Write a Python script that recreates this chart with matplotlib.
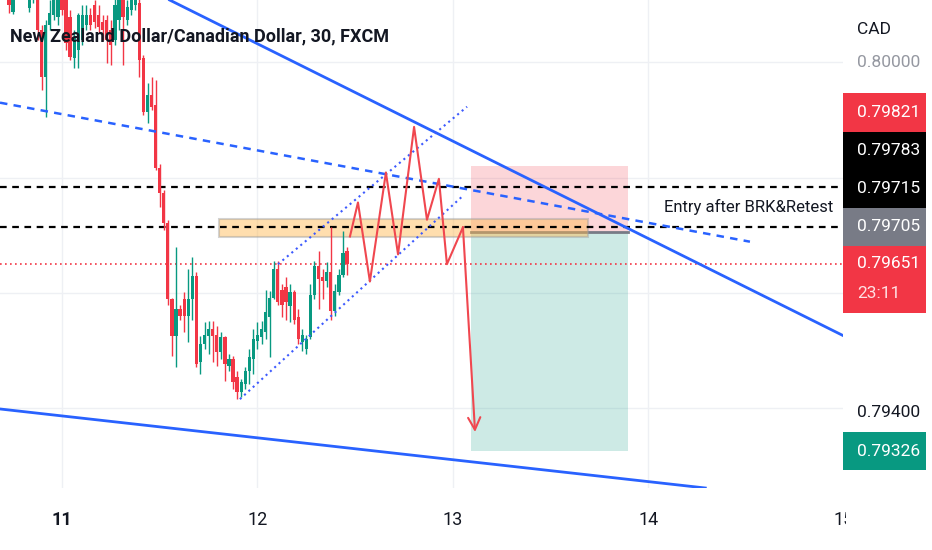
import matplotlib
matplotlib.use("Agg")
import matplotlib.pyplot as plt
from matplotlib.patches import Rectangle
import numpy as np

plt.rcParams['font.family'] = ['Roboto', 'DejaVu Sans']

GREEN = '#089981'
RED = '#f23645'
BLUE = '#2962ff'
INK = '#131722'

# NZDCAD 30 min candles, first bar on the 10th at 16:30
first_bar = 10 + 33 / 48
opens = [0.80151, 0.80134, 0.80125, 0.80087, 0.80117, 0.80134, 0.80151, 0.80094, 0.80117, 0.80117,
         0.80056, 0.79975, 0.80065, 0.80082, 0.80079, 0.80117, 0.80108, 0.80079, 0.80008, 0.80022,
         0.80039, 0.80065, 0.80082, 0.80099, 0.80082, 0.80070, 0.80073, 0.80056, 0.80039, 0.80073,
         0.80108, 0.80073, 0.80091, 0.80099, 0.80103, 0.80008, 0.79913, 0.79944, 0.79926, 0.79817,
         0.79774, 0.79722, 0.79589, 0.79525, 0.79572, 0.79589, 0.79560, 0.79589, 0.79629, 0.79480,
         0.79511, 0.79525, 0.79537, 0.79528, 0.79497, 0.79523, 0.79473, 0.79485, 0.79454, 0.79428,
         0.79442, 0.79464, 0.79485, 0.79516, 0.79523, 0.79532, 0.79558, 0.79592, 0.79641, 0.79606,
         0.79611, 0.79577, 0.79601, 0.79558, 0.79515, 0.79503, 0.79523, 0.79596, 0.79646, 0.79627,
         0.79620, 0.79636, 0.79568, 0.79601, 0.79632, 0.79672]
highs = [0.80169, 0.80151, 0.80143, 0.80134, 0.80151, 0.80169, 0.80177, 0.80143, 0.80151, 0.80125,
         0.80065, 0.80073, 0.80108, 0.80125, 0.80122, 0.80125, 0.80117, 0.80091, 0.80056, 0.80086,
         0.80099, 0.80099, 0.80094, 0.80108, 0.80099, 0.80082, 0.80082, 0.80073, 0.80117, 0.80125,
         0.80122, 0.80108, 0.80125, 0.80134, 0.80117, 0.80013, 0.79964, 0.79975, 0.79970, 0.79823,
         0.79779, 0.79727, 0.79592, 0.79679, 0.79580, 0.79601, 0.79641, 0.79663, 0.79637, 0.79525,
         0.79549, 0.79551, 0.79551, 0.79542, 0.79532, 0.79525, 0.79494, 0.79490, 0.79464, 0.79451,
         0.79471, 0.79503, 0.79537, 0.79549, 0.79551, 0.79606, 0.79603, 0.79655, 0.79655, 0.79615,
         0.79627, 0.79615, 0.79606, 0.79572, 0.79537, 0.79528, 0.79615, 0.79655, 0.79672, 0.79641,
         0.79653, 0.79714, 0.79615, 0.79641, 0.79707, 0.79679]
lows = [0.80122, 0.80111, 0.80086, 0.80084, 0.80111, 0.80125, 0.80129, 0.80087, 0.80103, 0.80039,
        0.79952, 0.79906, 0.80056, 0.80073, 0.80065, 0.80082, 0.80022, 0.80004, 0.79990, 0.79990,
        0.80030, 0.80056, 0.80056, 0.80060, 0.80051, 0.80039, 0.79999, 0.79996, 0.80030, 0.80056,
        0.79996, 0.80065, 0.80082, 0.80091, 0.79975, 0.79909, 0.79895, 0.79918, 0.79814, 0.79750,
        0.79710, 0.79580, 0.79490, 0.79471, 0.79554, 0.79532, 0.79515, 0.79554, 0.79471, 0.79459,
        0.79503, 0.79494, 0.79480, 0.79473, 0.79485, 0.79447, 0.79464, 0.79433, 0.79416, 0.79419,
        0.79433, 0.79442, 0.79459, 0.79503, 0.79511, 0.79520, 0.79489, 0.79589, 0.79579, 0.79558,
        0.79554, 0.79549, 0.79546, 0.79511, 0.79499, 0.79494, 0.79520, 0.79589, 0.79572, 0.79589,
        0.79611, 0.79554, 0.79561, 0.79596, 0.79627, 0.79632]
closes = [0.80134, 0.80117, 0.80099, 0.80117, 0.80134, 0.80151, 0.80143, 0.80125, 0.80134, 0.80056,
          0.79975, 0.80065, 0.80086, 0.80111, 0.80108, 0.80091, 0.80034, 0.80009, 0.80044, 0.80082,
          0.80082, 0.80082, 0.80065, 0.80070, 0.80061, 0.80056, 0.80039, 0.80030, 0.80099, 0.80108,
          0.80079, 0.80096, 0.80113, 0.80122, 0.80004, 0.79913, 0.79944, 0.79923, 0.79817, 0.79774,
          0.79722, 0.79589, 0.79525, 0.79572, 0.79560, 0.79560, 0.79589, 0.79629, 0.79477, 0.79511,
          0.79528, 0.79537, 0.79525, 0.79497, 0.79523, 0.79477, 0.79485, 0.79446, 0.79428, 0.79446,
          0.79464, 0.79489, 0.79520, 0.79528, 0.79537, 0.79567, 0.79592, 0.79641, 0.79584, 0.79580,
          0.79584, 0.79601, 0.79554, 0.79520, 0.79528, 0.79520, 0.79596, 0.79646, 0.79624, 0.79620,
          0.79636, 0.79568, 0.79603, 0.79632, 0.79669, 0.79651]

# drawings (day, price)
upper_trend = [(12.575, 0.79935), (14.008, 0.79693)]
lower_trend = [(10.683, 0.79399), (14.238, 0.79264)]
mid_dashed_x = [10.683, 14.519]
mid_dashed_y = [0.79930, 0.79689]
chan_top_x = [12.105, 13.072]
chan_top_y = [0.79650, 0.79923]
chan_bot_x = [11.910, 13.046]
chan_bot_y = [0.79416, 0.79767]
levels = [0.79783, 0.79715]
zone_x = [11.803, 13.690]
zone_y = [0.79698, 0.79729]
path_x = [12.473, 12.514, 12.575, 12.657, 12.719, 12.801, 12.867, 12.928, 12.969, 13.051]
path_y = [0.79698, 0.79757, 0.79620, 0.79809, 0.79667, 0.79888, 0.79727, 0.79798, 0.79650, 0.79714]
arrow_end = (13.113, 0.79359)
pos_x = [13.092, 13.895]
entry, stop, target = 0.79705, 0.79821, 0.79326
last_price = 0.79651
countdown = '23:11'
days = [11, 12, 13, 14, 15]

xmin, xmax = 10.683, 14.995
ymin, ymax = 0.79262, 0.80108

fig = plt.figure(figsize=(9.32, 5.50), dpi=100)
ax = fig.add_axes([0, 62 / 550, 843 / 932, 488 / 550])
ax.set_xlim(xmin, xmax)
ax.set_ylim(ymin, ymax)
for s in ax.spines.values():
    s.set_visible(False)
ax.set_xticks([])
ax.set_yticks([])

for d in days:
    ax.axvline(d, color='#eef0f4', lw=1, zorder=0)
for p in [0.794, 0.796, 0.798, 0.800]:
    ax.axhline(p, color='#eef0f4', lw=1, zorder=0)

# long position tool
ax.add_patch(Rectangle((pos_x[0], entry), pos_x[1] - pos_x[0], stop - entry,
                       facecolor=RED, alpha=0.2, lw=0, zorder=1))
ax.add_patch(Rectangle((pos_x[0], target), pos_x[1] - pos_x[0], entry - target,
                       facecolor=GREEN, alpha=0.2, lw=0, zorder=1))
ax.plot(pos_x, [entry, entry], color='#787b86', lw=2, zorder=1)

# support zone
ax.add_patch(Rectangle((zone_x[0], zone_y[0]), zone_x[1] - zone_x[0], zone_y[1] - zone_y[0],
                       facecolor='#ffb74d', alpha=0.45, edgecolor='#9e9e9e', lw=1.5, zorder=2))

# candles
t = first_bar + np.arange(len(opens)) / 48
o = np.array(opens)
c = np.array(closes)
cols = np.where(c >= o, GREEN, RED)
ax.vlines(t, lows, highs, colors=cols, lw=1, zorder=4)
ax.bar(t, c - o, bottom=o, width=0.8 / 48, color=cols, lw=0, zorder=4)

# horizontal levels
for lv in levels:
    ax.axhline(lv, color='black', lw=1.6, ls=(0, (3, 2.5)), zorder=3)
ax.axhline(last_price, color=RED, lw=1.2, ls=(0, (1, 2)), zorder=3)

# trend lines
ax.axline(upper_trend[0], upper_trend[1], color=BLUE, lw=2, zorder=5)
ax.axline(lower_trend[0], lower_trend[1], color=BLUE, lw=2, zorder=5)
ax.plot(mid_dashed_x, mid_dashed_y, color=BLUE, lw=1.8, ls=(0, (3, 2.5)), zorder=5)
ax.plot(chan_top_x, chan_top_y, color='#3d5afe', lw=1.5, ls=(0, (1, 1.8)), zorder=5)
ax.plot(chan_bot_x, chan_bot_y, color='#3d5afe', lw=1.5, ls=(0, (1, 1.8)), zorder=5)

# projected path
ax.plot(path_x, path_y, color='#f0474f', lw=1.5, zorder=6)
ax.annotate('', xy=arrow_end, xytext=(path_x[-1], path_y[-1]),
            arrowprops=dict(arrowstyle='->', color='#f0474f', lw=1.5,
                            mutation_scale=22, shrinkA=0, shrinkB=0), zorder=6)

ax.text(14.944, 0.79750, 'Entry after BRK&Retest', ha='right', va='center',
        fontsize=12, color=INK, zorder=7)

fig.text(10 / 932, 1 - 36 / 550, 'New Zealand Dollar/Canadian Dollar, 30, FXCM',
         ha='left', va='center', fontsize=13, fontweight='bold', color=INK)

# date axis (last label is cut by the price scale)
dax = fig.add_axes([0, 0, 846 / 932, 62 / 550])
dax.set_xlim(xmin, xmin + (xmax - xmin) * 846 / 843)
dax.set_ylim(0, 1)
dax.axis('off')
for d in days:
    dax.text(d, 0.48, str(d), ha='center', va='center', fontsize=13, color=INK,
             fontweight='bold' if d == 11 else 'normal', clip_on=True)

# price scale
fs = 12.5
pax = fig.add_axes([843 / 932, 62 / 550, 89 / 932, 488 / 550])
pax.set_xlim(0, 89)
pax.set_ylim(ymin, ymax)
pax.axis('off')
pax.text(14, 0.80056, 'CAD', ha='left', va='center', fontsize=fs, color=INK)
pax.text(14, 0.80000, '0.80000', ha='left', va='center', fontsize=fs, color='#9598a1')
pax.text(14, 0.79393, '0.79400', ha='left', va='center', fontsize=fs, color=INK)

half = 0.00033
label_prices = [0.79705, 0.79715, 0.79783, 0.79821]
label_colors = ['#787b86', 'black', 'black', RED]

# countdown box for the last price
box_top = last_price + 0.00031
box_bot = last_price - 0.00085
pax.add_patch(Rectangle((0, box_bot), 83, box_top - box_bot, facecolor=RED, lw=0))
pax.text(14, last_price, f'{last_price:.5f}', ha='left', va='center', fontsize=fs, color='white')
pax.text(14, last_price - 0.00052, countdown, ha='left', va='center', fontsize=fs, color='#ffe0e3')

top = box_top
for p, col in zip(label_prices, label_colors):
    cy = max(p, top + half)
    pax.add_patch(Rectangle((0, cy - half), 83, 2 * half, facecolor=col, lw=0))
    pax.text(14, cy, f'{p:.5f}', ha='left', va='center', fontsize=fs, color='white')
    top = cy + half

pax.add_patch(Rectangle((0, target - half), 83, 2 * half, facecolor=GREEN, lw=0))
pax.text(14, target, f'{target:.5f}', ha='left', va='center', fontsize=fs, color='white')

fig.savefig('out.png', dpi=100)
